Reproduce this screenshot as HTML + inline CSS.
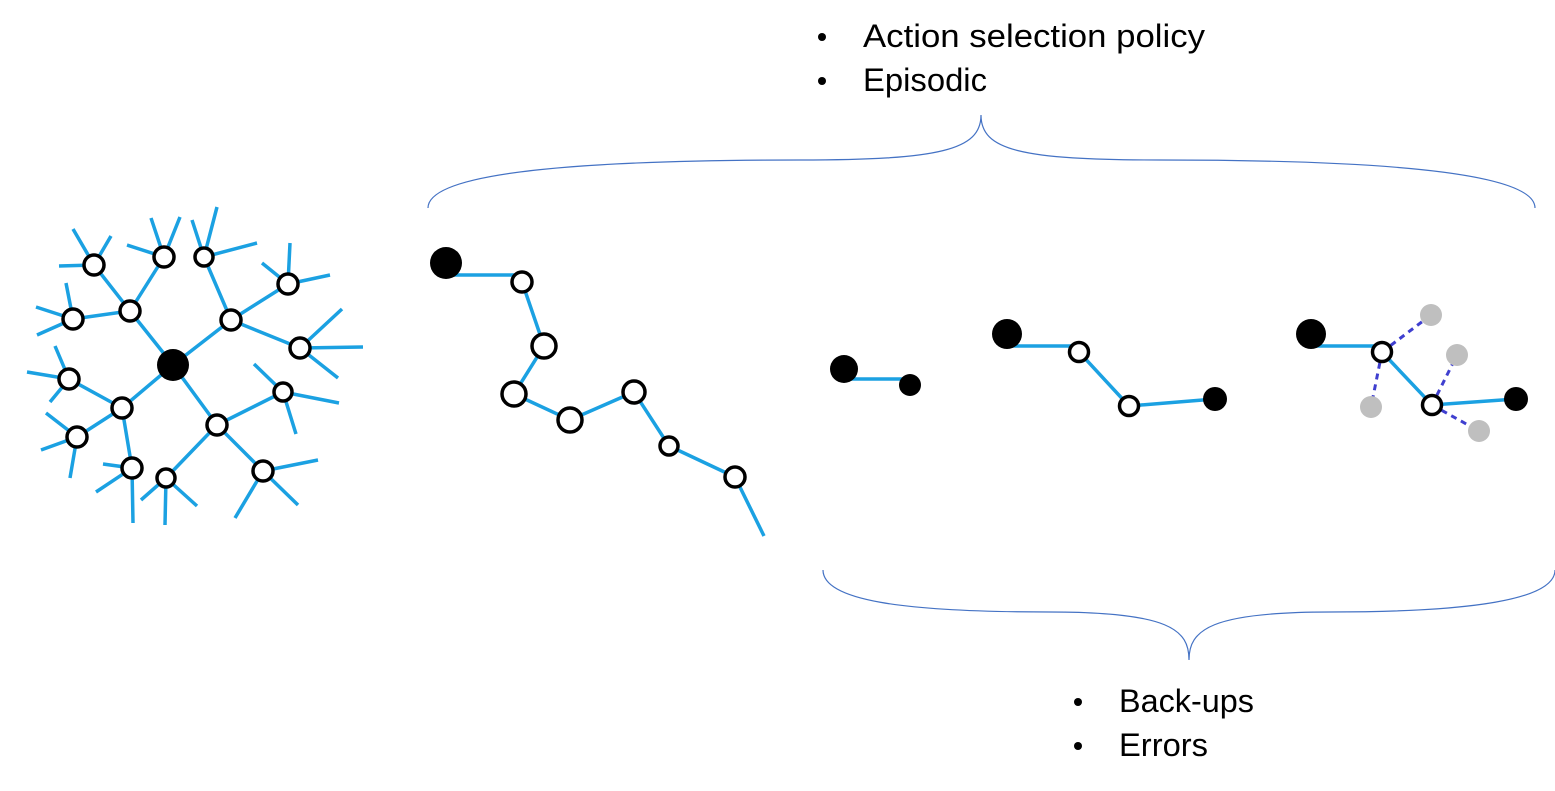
<!DOCTYPE html>
<html><head><meta charset="utf-8"><style>html,body{margin:0;padding:0;background:#fff;}svg{display:block;}</style></head>
<body>
<svg width="1555" height="791" viewBox="0 0 1555 791" xmlns="http://www.w3.org/2000/svg">
<g font-family="Liberation Sans, sans-serif" font-size="32" fill="#000">
<circle cx="822" cy="37" r="4"/><circle cx="822" cy="81" r="4"/>
<text x="863" y="47" textLength="342" lengthAdjust="spacingAndGlyphs">Action selection policy</text>
<text x="863" y="91" textLength="124" lengthAdjust="spacingAndGlyphs">Episodic</text>
<circle cx="1078" cy="702" r="4"/><circle cx="1078" cy="746" r="4"/>
<text x="1119" y="712" textLength="135" lengthAdjust="spacingAndGlyphs">Back-ups</text>
<text x="1119" y="756" textLength="89" lengthAdjust="spacingAndGlyphs">Errors</text>
</g>
<g fill="none" stroke="#4472C4" stroke-width="1.2">
<path d="M428,208 C428,170 600,160 800,160 C940,160 981,150 981,115 C981,150 1020,160 1160,160 C1360,160 1535,170 1535,208"/>
<path d="M823,570 C823,600 900,612 1050,612 C1170,612 1189,630 1189,660 C1189,630 1210,612 1330,612 C1470,612 1555,600 1555,570"/>
</g>
<g stroke="#1BA1E2" stroke-width="3.5" stroke-linecap="butt" fill="none">
<path d="M173,365L130,311M173,365L231,320M173,365L122,408M173,365L217,425"/>
<path d="M130,311L94,265M130,311L164,257M130,311L73,319M231,320L204,257M231,320L288,284M231,320L300,348M122,408L69,379M122,408L77,437M122,408L132,468M217,425L283,392M217,425L263,471M217,425L166,478"/>
<path d="M94,265L73,229M94,265L111,236M94,265L59,266"/>
<path d="M164,257L151,218M164,257L180,217M164,257L127,245"/>
<path d="M204,257L192,220M204,257L217,207M204,257L257,243"/>
<path d="M288,284L262,263M288,284L290,243M288,284L330,275"/>
<path d="M300,348L342,309M300,348L363,347M300,348L338,378"/>
<path d="M73,319L66,283M73,319L36,307M73,319L37,335"/>
<path d="M69,379L55,346M69,379L27,372M69,379L50,402"/>
<path d="M77,437L46,413M77,437L41,450M77,437L70,478"/>
<path d="M132,468L103,464M132,468L96,492M132,468L133,523"/>
<path d="M166,478L141,500M166,478L165,525M166,478L197,506"/>
<path d="M263,471L318,460M263,471L235,518M263,471L298,505"/>
<path d="M283,392L254,364M283,392L339,403M283,392L296,434"/>
<path d="M446,275L522,275L522,282L544,346L514,394L570,420L634,392L669,446L735,477L764,536"/>
<path d="M844,379L910,379L910,385"/>
<path d="M1007,346L1079,346L1079,352L1129,406L1215,399"/>
<path d="M1311,346L1382,346L1382,352L1432,405L1516,399"/>
</g>
<g stroke="#3F3FCF" stroke-width="3" stroke-dasharray="6,5" fill="none">
<path d="M1382,352L1431,315M1382,352L1371,407M1432,405L1457,355M1432,405L1479,431"/>
</g>
<g fill="#BFBFBF">
<circle cx="1431" cy="315" r="11"/><circle cx="1457" cy="355" r="11"/><circle cx="1371" cy="407" r="11"/><circle cx="1479" cy="431" r="11"/>
</g>
<g fill="#fff" stroke="#000" stroke-width="3.5">
<circle cx="130" cy="311" r="10"/><circle cx="231" cy="320" r="10"/><circle cx="122" cy="408" r="10"/><circle cx="217" cy="425" r="10"/>
<circle cx="94" cy="265" r="10"/><circle cx="164" cy="257" r="10"/><circle cx="73" cy="319" r="10"/>
<circle cx="204" cy="257" r="9"/><circle cx="288" cy="284" r="10"/><circle cx="300" cy="348" r="10"/>
<circle cx="69" cy="379" r="10"/><circle cx="77" cy="437" r="10"/><circle cx="132" cy="468" r="10"/>
<circle cx="283" cy="392" r="9"/><circle cx="263" cy="471" r="10"/><circle cx="166" cy="478" r="9"/>
<circle cx="522" cy="282" r="10"/><circle cx="544" cy="346" r="12"/><circle cx="514" cy="394" r="12"/><circle cx="570" cy="420" r="12"/><circle cx="634" cy="392" r="11"/><circle cx="669" cy="446" r="9"/><circle cx="735" cy="477" r="10"/>
<circle cx="1079" cy="352" r="9.5"/><circle cx="1129" cy="406" r="9.5"/>
<circle cx="1382" cy="352" r="9.5"/><circle cx="1432" cy="405" r="9.5"/>
</g>
<g fill="#000">
<circle cx="173" cy="365" r="16"/>
<circle cx="446" cy="263" r="16"/>
<circle cx="844" cy="369" r="14"/><circle cx="910" cy="385" r="11"/>
<circle cx="1007" cy="334" r="15"/><circle cx="1215" cy="399" r="12"/>
<circle cx="1311" cy="334" r="15"/><circle cx="1516" cy="399" r="12"/>
</g>
</svg>
</body></html>
